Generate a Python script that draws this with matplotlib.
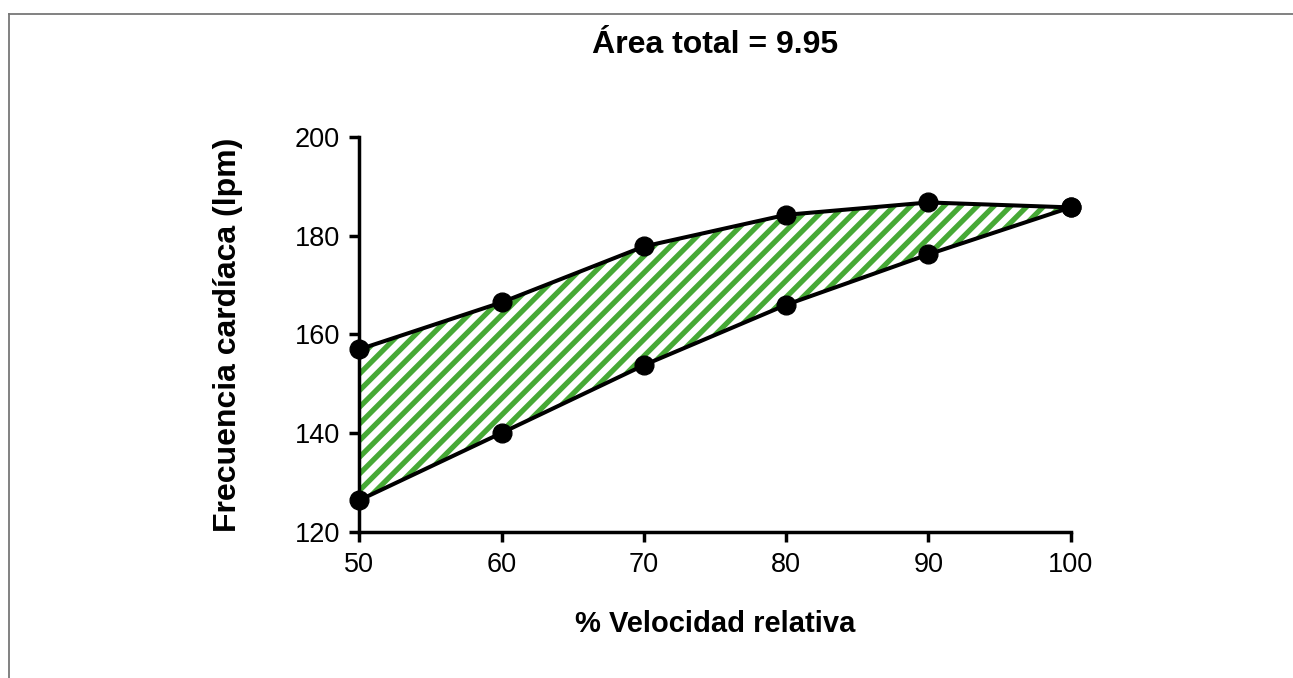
import matplotlib
matplotlib.use("Agg")
import matplotlib.pyplot as plt
from matplotlib.lines import Line2D

# -----------------------------
# Data
# -----------------------------
velocidad = [50, 60, 70, 80, 90, 100]
fc_superior = [157.0, 166.5, 177.8, 184.2, 186.7, 185.7]
fc_inferior = [126.5, 140.1, 153.8, 166.0, 176.2, 185.7]

x_ticks = [50, 60, 70, 80, 90, 100]
y_ticks = [120, 140, 160, 180, 200]

titulo = "Área total = 9.95"
x_label = "% Velocidad relativa"
y_label = "Frecuencia cardíaca (lpm)"

verde = "#46A935"

plt.rcParams["font.family"] = ["Liberation Sans", "DejaVu Sans"]
plt.rcParams["hatch.linewidth"] = 3.8

fig = plt.figure(figsize=(12.93, 6.78), dpi=100)
ax = fig.add_axes([0.278, 0.2149, 0.550, 0.5835])

# hatched area between the two curves
ax.fill_between(velocidad, fc_inferior, fc_superior, facecolor="none",
                edgecolor=verde, hatch="//", linewidth=0, zorder=1)

# the two curves
for serie in (fc_superior, fc_inferior):
    ax.plot(velocidad, serie, color="black", linewidth=2.9, marker="o",
            markersize=13.5, zorder=3, clip_on=False)

ax.set_xlim(50, 100)
ax.set_ylim(120, 200)
ax.set_xticks(x_ticks)
ax.set_yticks(y_ticks)
ax.tick_params(labelsize=19.5, width=2.5, length=7, direction="out", pad=7)

for s in ("top", "right"):
    ax.spines[s].set_visible(False)
for s in ("left", "bottom"):
    ax.spines[s].set_linewidth(2.5)

ax.set_xlabel(x_label, fontsize=21, fontweight="bold", labelpad=23)
ax.set_ylabel(y_label, fontsize=23, fontweight="bold", labelpad=37)

fig.text(0.553, 0.933, titulo, ha="center", va="center",
         fontsize=23, fontweight="bold")

# thin gray frame at top and left
fig.add_artist(Line2D([0.007, 1.0], [0.979, 0.979], color="#777777",
                      linewidth=1.3, transform=fig.transFigure))
fig.add_artist(Line2D([0.007, 0.007], [0.0, 0.979], color="#777777",
                      linewidth=1.3, transform=fig.transFigure))

fig.savefig("out.png", dpi=100)
